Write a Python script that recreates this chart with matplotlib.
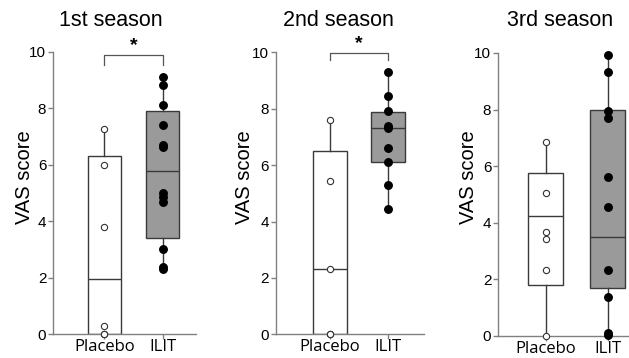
import matplotlib
matplotlib.use("Agg")
import matplotlib.pyplot as plt
import numpy as np

W, H = 629, 358

titles = ["1st season", "2nd season", "3rd season"]
groups = ["Placebo", "ILIT"]
yticks = [0, 2, 4, 6, 8, 10]

# individual data points
placebo_pts = [
    [0.0, 0.0, 0.3, 3.8, 6.0, 7.25],
    [0.0, 0.0, 2.32, 5.43, 7.6],
    [0.0, 2.32, 3.41, 3.66, 5.04, 6.85],
]
ilit_pts = [
    [2.30, 2.38, 3.01, 4.69, 4.87, 4.99, 6.62, 6.70, 7.40, 8.11, 8.82, 9.12],
    [4.43, 5.29, 6.11, 6.62, 7.30, 7.39, 7.92, 8.45, 9.29],
    [0.03, 0.08, 1.36, 2.32, 4.54, 5.62, 7.69, 7.95, 9.34, 9.92],
]

# box statistics: whisker low, Q1, median, Q3, whisker high
placebo_box = [
    [0.0, 0.0, 1.96, 6.31, 7.25],
    [0.0, 0.0, 2.32, 6.50, 7.60],
    [0.0, 1.78, 4.24, 5.74, 6.85],
]
ilit_box = [
    [2.30, 3.42, 5.79, 7.91, 9.12],
    [4.43, 6.11, 7.30, 7.88, 9.29],
    [0.03, 1.68, 3.50, 7.97, 9.92],
]
significant = [True, True, False]

# layout (pixels)
ax_px = [  # left, right, y0px, y10px, xlim
    (53.3, 196.0, 334.3, 51.7, (-0.873, 1.57)),
    (276.0, 424.3, 334.3, 52.3, (-0.936, 1.63)),
    (498.3, 629.0, 335.7, 53.0, (-0.76, 1.34)),
]
box_w = [0.57, 0.59, 0.565]
title_pos = [(111, 20), (338, 20), (560, 20)]
ylabel_x = [25, 245, 468]

fig = plt.figure(figsize=(W / 100, H / 100), dpi=100)
spine_c = "#808080"
edge_c = "#3a3a3a"

for i in range(3):
    l, r, y0, y10, xl = ax_px[i]
    ax = fig.add_axes([l / W, 1 - y0 / H, (r - l) / W, (y0 - y10) / H])
    ax.set_xlim(*xl)
    ax.set_ylim(0, 10)
    stats = []
    for b in (placebo_box[i], ilit_box[i]):
        stats.append(dict(whislo=b[0], q1=b[1], med=b[2], q3=b[3], whishi=b[4], fliers=[]))
    bp = ax.bxp(stats, positions=[0, 1], widths=box_w[i], patch_artist=True,
                showcaps=False,
                boxprops=dict(linewidth=1.0, edgecolor=edge_c),
                medianprops=dict(color=edge_c, linewidth=1.0),
                whiskerprops=dict(color=edge_c, linewidth=1.0))
    bp["boxes"][0].set_facecolor("white")
    bp["boxes"][1].set_facecolor("#9a9a9a")
    for b in bp["boxes"]:
        b.set_zorder(2)
    ax.plot(np.zeros(len(placebo_pts[i])), placebo_pts[i], "o", ms=4.5,
            mfc="white", mec="#333333", mew=0.8, clip_on=False, zorder=5)
    ax.plot(np.ones(len(ilit_pts[i])), ilit_pts[i], "o", ms=5.4,
            mfc="black", mec="black", clip_on=False, zorder=5)

    for s in ["top", "right"]:
        ax.spines[s].set_visible(False)
    for s in ["left", "bottom"]:
        ax.spines[s].set_color(spine_c)
        ax.spines[s].set_linewidth(1.0)
    ax.set_yticks(yticks)
    ax.set_yticklabels([str(v) for v in yticks], fontsize=11, family="Liberation Sans")
    ax.set_xticks([0, 1])
    ax.set_xticklabels(groups, fontsize=12, family="Open Sans")
    ax.tick_params(axis="both", color=spine_c, length=3.5, width=1.0, pad=1.5)
    ax.tick_params(axis="x", pad=0)

    if significant[i]:
        yb = [9.87, 9.96][i]
        yt = [9.53, 9.73][i]
        ax.plot([0, 0, 1, 1], [yt, yb, yb, yt], color="#555555", lw=0.9, clip_on=False)
        ax.text(0.5, yb + 0.05, "*", ha="center", va="bottom", fontsize=14,
                family="Liberation Sans", fontweight="bold", clip_on=False)

    fig.text(title_pos[i][0] / W, 1 - title_pos[i][1] / H, titles[i], ha="center",
             va="center", fontsize=15.5, family="Liberation Sans")
    fig.text(ylabel_x[i] / W, 1 - 177 / H, "VAS score", rotation=90, ha="center",
             va="center", fontsize=14.5, family="Liberation Sans")

fig.savefig("out.png", dpi=100)
